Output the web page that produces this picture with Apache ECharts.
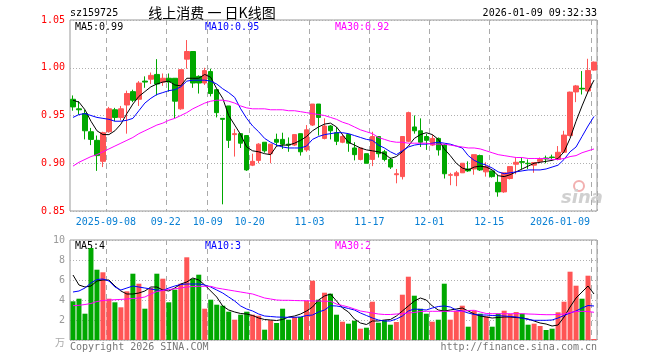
<!DOCTYPE html>
<html><head><meta charset="utf-8">
<script src="https://cdn.jsdelivr.net/npm/echarts@6/dist/echarts.min.js"></script>
<style>html,body{margin:0;padding:0;background:#fff}#c{width:660px;height:360px}</style>
</head><body><div id="c"></div>
<script>
const dates = [
'2025-08-29',
'2025-09-01','2025-09-02','2025-09-03','2025-09-04','2025-09-05','2025-09-08','2025-09-09','2025-09-10','2025-09-11','2025-09-12',
'2025-09-15','2025-09-16','2025-09-17','2025-09-18','2025-09-19','2025-09-22','2025-09-23','2025-09-24','2025-09-25','2025-09-26',
'2025-09-29','2025-09-30',
'2025-10-09','2025-10-10','2025-10-13','2025-10-14','2025-10-15','2025-10-16','2025-10-17','2025-10-20','2025-10-21','2025-10-22',
'2025-10-23','2025-10-24','2025-10-27','2025-10-28','2025-10-29','2025-10-30','2025-10-31',
'2025-11-03','2025-11-04','2025-11-05','2025-11-06','2025-11-07','2025-11-10','2025-11-11','2025-11-12','2025-11-13','2025-11-14',
'2025-11-17','2025-11-18','2025-11-19','2025-11-20','2025-11-21','2025-11-24','2025-11-25','2025-11-26','2025-11-27','2025-11-28',
'2025-12-01','2025-12-02','2025-12-03','2025-12-04','2025-12-05','2025-12-08','2025-12-09','2025-12-10','2025-12-11','2025-12-12',
'2025-12-15','2025-12-16','2025-12-17','2025-12-18','2025-12-19','2025-12-22','2025-12-23','2025-12-24','2025-12-25','2025-12-26',
'2025-12-29','2025-12-30','2025-12-31',
'2026-01-05','2026-01-06','2026-01-07','2026-01-08','2026-01-09'];

const tickDates  = ['2025-09-08','2025-09-22','2025-10-09','2025-10-20','2025-11-03','2025-11-17','2025-12-01','2025-12-15','2026-01-09'];
const tickLabels = ['2025-09-08','09-22','10-09','10-20','11-03','11-17','12-01','12-15','2026-01-09'];
const priceTicks = [0.85, 0.90, 0.95, 1.00, 1.05];
const volTicks = [0, 2, 4, 6, 8, 10];

const opens  = [0.967,0.957,0.952,0.933,0.924,0.902,0.933,0.956,0.948,0.961,0.975,0.967,0.986,0.988,0.993,0.985,0.989,0.989,0.957,1.009,
1.017,0.991,0.984,0.996,0.977,0.947,0.960,0.930,0.931,0.929,0.898,0.903,0.922,0.910,0.925,0.925,0.920,0.919,0.931,0.914,
0.940,0.962,0.926,0.939,0.932,0.922,0.930,0.916,0.904,0.910,0.904,0.928,0.912,0.904,0.888,0.886,0.923,0.938,0.934,0.928,
0.919,0.926,0.919,0.8875,0.887,0.890,0.894,0.894,0.908,0.891,0.892,0.880,0.870,0.884,0.899,0.9017,0.900,0.898,0.902,0.9055,
0.9065,0.904,0.9115,0.929,0.9747,0.9785,0.9757,0.9976];
const closes = [0.959,0.956,0.934,0.925,0.908,0.932,0.957,0.948,0.957,0.973,0.966,0.984,0.985,0.992,0.983,0.989,0.985,0.965,0.998,1.017,
0.984,0.984,0.997,0.973,0.953,0.946,0.924,0.931,0.921,0.893,0.902,0.920,0.913,0.920,0.922,0.920,0.919,0.930,0.912,0.935,
0.962,0.948,0.939,0.934,0.923,0.928,0.921,0.909,0.916,0.900,0.928,0.910,0.904,0.896,0.889,0.928,0.953,0.934,0.922,0.924,
0.926,0.914,0.889,0.888,0.890,0.900,0.892,0.909,0.893,0.8965,0.886,0.870,0.890,0.8965,0.901,0.901,0.8995,0.9007,0.904,0.9045,
0.906,0.9115,0.9295,0.9745,0.981,0.9778,0.9972,1.0059];
const lows   = [0.955,0.951,0.925,0.919,0.892,0.896,0.932,0.944,0.945,0.931,0.964,0.960,0.979,0.983,0.971,0.981,0.975,0.947,0.956,0.999,
0.979,0.973,0.982,0.970,0.948,0.857,0.916,0.907,0.916,0.892,0.897,0.900,0.911,0.900,0.918,0.915,0.912,0.918,0.908,0.912,
0.939,0.929,0.925,0.925,0.919,0.921,0.912,0.903,0.903,0.900,0.897,0.906,0.902,0.894,0.879,0.883,0.922,0.931,0.917,0.914,
0.918,0.908,0.884,0.877,0.876,0.890,0.891,0.888,0.892,0.886,0.885,0.865,0.869,0.883,0.8885,0.894,0.894,0.890,0.900,0.900,
0.904,0.903,0.911,0.928,0.964,0.972,0.9733,0.997];
const highs  = [0.971,0.965,0.956,0.937,0.929,0.933,0.959,0.958,0.960,0.976,0.977,0.986,0.991,0.995,1.009,0.994,0.994,0.989,0.998,1.029,
1.017,0.992,1.000,0.999,0.978,0.947,0.960,0.936,0.931,0.929,0.910,0.921,0.922,0.920,0.931,0.932,0.927,0.930,0.931,0.940,
0.962,0.962,0.947,0.940,0.938,0.931,0.931,0.922,0.916,0.910,0.933,0.928,0.914,0.906,0.894,0.928,0.954,0.950,0.947,0.931,
0.930,0.927,0.920,0.890,0.892,0.900,0.902,0.909,0.909,0.901,0.892,0.888,0.890,0.8965,0.906,0.906,0.904,0.901,0.906,0.908,
0.909,0.918,0.934,0.975,0.982,0.9965,1.0094,1.0065];

const ma5  = [0.966,0.964,0.956,0.944,0.934,0.930,0.930,0.934,0.941,0.952,0.962,0.970,0.975,0.980,0.983,0.985,0.986,0.982,0.981,0.989,
0.989,0.989,0.993,0.990,0.978,0.968,0.950,0.940,0.930,0.917,0.913,0.912,0.910,0.909,0.918,0.919,0.919,0.921,0.924,0.928,
0.934,0.938,0.941,0.942,0.938,0.930,0.922,0.919,0.916,0.914,0.913,0.912,0.910,0.905,0.907,0.912,0.918,0.926,0.930,0.932,
0.930,0.925,0.915,0.908,0.900,0.895,0.893,0.896,0.897,0.896,0.893,0.887,0.886,0.888,0.891,0.894,0.897,0.900,0.901,0.902,
0.903,0.905,0.912,0.926,0.944,0.960,0.975,0.987];
const ma10 = [0.948,0.951,0.952,0.950,0.948,0.947,0.946,0.944,0.944,0.945,0.947,0.955,0.963,0.968,0.972,0.974,0.976,0.977,0.980,0.986,
0.987,0.987,0.987,0.986,0.983,0.978,0.974,0.969,0.957,0.947,0.939,0.933,0.926,0.922,0.919,0.917,0.916,0.916,0.916,0.918,
0.925,0.928,0.930,0.931,0.932,0.932,0.931,0.929,0.927,0.925,0.924,0.919,0.916,0.912,0.909,0.913,0.917,0.919,0.920,0.920,
0.921,0.922,0.921,0.920,0.918,0.916,0.908,0.903,0.900,0.898,0.895,0.891,0.889,0.890,0.891,0.892,0.893,0.893,0.893,0.894,
0.896,0.898,0.904,0.912,0.917,0.928,0.939,0.949];
const ma30 = [0.897,0.901,0.904,0.907,0.909,0.912,0.915,0.918,0.921,0.924,0.927,0.931,0.934,0.937,0.940,0.942,0.945,0.947,0.950,0.953,
0.957,0.960,0.963,0.965,0.966,0.966,0.965,0.963,0.960,0.958,0.957,0.957,0.957,0.956,0.956,0.956,0.955,0.955,0.954,0.953,
0.952,0.951,0.950,0.948,0.946,0.943,0.941,0.938,0.935,0.933,0.931,0.927,0.925,0.923,0.922,0.922,0.921,0.921,0.921,0.921,
0.920,0.920,0.920,0.919,0.918,0.917,0.916,0.916,0.915,0.913,0.911,0.909,0.908,0.907,0.906,0.906,0.905,0.905,0.905,0.905,
0.904,0.904,0.905,0.907,0.908,0.911,0.913,0.915];

const volumes = [3.87,4.13,2.63,9.2,7.03,6.77,4.13,3.77,3.27,4.87,6.63,5.63,3.13,5.2,6.63,6.13,3.77,5.03,5.63,8.27,
6.13,6.53,3.13,4.03,3.53,3.43,2.83,2.03,2.53,2.83,2.53,2.43,1.03,1.97,1.7,3.13,2.03,2.3,2.3,3.93,
5.93,4.03,4.73,4.63,2.53,1.83,1.63,1.93,1.13,1.23,3.83,1.73,1.97,1.53,1.8,4.53,6.33,4.43,3.13,2.63,
1.83,2.03,5.63,2.03,2.93,3.43,1.33,2.93,2.63,2.37,1.33,2.63,2.93,2.6,2.8,2.63,1.53,1.63,1.4,1.0,
1.13,2.77,3.83,6.83,5.43,4.13,6.43,0.1];
const vma5  = [6.5,5.5,5.3,5.4,5.9,6.0,6.0,5.4,4.9,4.6,4.6,4.7,4.9,5.3,5.3,5.0,4.9,5.2,5.6,5.8,
6.2,6.0,5.5,4.9,4.3,3.4,3.0,2.8,2.65,2.6,2.45,2.2,2.05,2.0,1.95,2.05,2.3,2.4,2.6,2.9,
3.3,4.0,4.4,4.6,3.9,3.2,2.8,2.1,1.7,1.55,1.9,1.9,2.0,2.05,2.4,2.9,3.4,3.9,4.2,4.0,
3.4,3.0,2.9,3.0,3.1,3.2,2.9,2.6,2.4,2.3,2.2,2.25,2.3,2.3,2.25,2.2,2.1,1.9,1.7,1.6,
1.4,1.5,2.3,3.3,4.2,4.8,5.4,4.6];
const vma10 = [4.8,4.9,5.2,5.7,6.05,6.1,5.9,5.3,5.0,5.2,5.4,5.3,5.2,5.1,5.0,4.95,5.2,5.4,5.55,5.6,
5.6,5.6,5.5,5.3,5.0,4.7,4.3,3.9,3.4,3.1,2.9,2.6,2.4,2.35,2.3,2.28,2.27,2.27,2.3,2.45,
2.5,2.8,3.0,3.43,3.4,3.3,3.15,3.0,2.7,2.45,2.2,2.0,1.9,1.9,2.1,2.4,2.9,3.1,3.05,3.0,
3.2,3.35,3.4,3.3,3.0,2.9,2.7,2.55,2.5,2.5,2.45,2.43,2.4,2.35,2.3,2.2,2.05,1.97,1.97,1.97,
2.0,2.2,2.45,2.7,2.9,3.2,3.45,3.4];
const vma30 = [3.43,3.47,3.55,3.65,3.85,3.95,4.0,4.03,4.06,4.1,4.15,4.2,4.3,4.6,4.85,4.95,5.05,5.12,5.2,5.3,
5.35,5.37,5.37,5.37,5.2,5.1,5.0,4.9,4.8,4.7,4.6,4.4,4.2,4.1,4.0,3.97,3.97,3.95,3.93,3.93,
3.9,3.9,3.88,3.87,3.6,3.45,3.3,3.1,2.9,2.8,2.7,2.6,2.55,2.55,2.6,2.63,2.7,2.75,2.85,2.87,
2.87,2.87,2.87,2.87,2.87,2.87,2.95,2.97,2.8,2.65,2.63,2.63,2.63,2.63,2.63,2.63,2.6,2.58,2.55,2.53,
2.53,2.55,2.6,2.75,2.85,2.87,2.85,2.77];

const UP = '#ff5555', DOWN = '#00a800';
const MONO = '"DejaVu Sans Mono", "Liberation Mono", monospace';

const kData = opens.map((o, i) => [o, closes[i], lows[i], highs[i]]);
const volData = volumes.map((v, i) => ({ value: v, itemStyle: { color: closes[i] >= opens[i] ? UP : DOWN } }));
const isTick = (idx, val) => tickDates.indexOf(val) >= 0;

const chart = echarts.init(document.getElementById('c'), null, { renderer: 'canvas' });
const splitV = { show: true, interval: isTick, lineStyle: { color: '#aaaaaa', type: [5, 4], width: 1 } };
const splitH = { show: true, lineStyle: { color: '#b0b0b0', type: [1, 2], width: 1 } };

chart.setOption({
  animation: false,
  backgroundColor: '#ffffff',
  grid: [
    { left: 70, top: 20, width: 527, height: 191, show: true, borderColor: '#999999', borderWidth: 1, backgroundColor: 'transparent' },
    { left: 70, top: 240, width: 527, height: 100, show: true, borderColor: '#999999', borderWidth: 1, backgroundColor: 'transparent' }
  ],
  xAxis: [
    { type: 'category', gridIndex: 0, data: dates, boundaryGap: true,
      axisLine: { show: false }, axisTick: { show: false }, splitLine: splitV,
      axisLabel: { show: true, interval: isTick, margin: 6, color: '#0a80d4', fontFamily: MONO, fontSize: 10,
        formatter: (val) => {
          const k = tickDates.indexOf(val);
          if (k < 0) return '';
          return (k === tickDates.length - 1 ? '{b|' : '{a|') + tickLabels[k] + '}';
        },
        rich: {
          a: { padding: [0, 6, 0, 0], color: '#0a80d4', fontFamily: MONO, fontSize: 10 },
          b: { padding: [0, 68, 0, 0], color: '#0a80d4', fontFamily: MONO, fontSize: 10 }
        } } },
    { type: 'category', gridIndex: 1, data: dates, boundaryGap: true,
      axisLine: { show: false }, axisTick: { show: false }, axisLabel: { show: false }, splitLine: splitV }
  ],
  yAxis: [
    { type: 'value', gridIndex: 0, min: priceTicks[0], max: priceTicks[priceTicks.length - 1], interval: 0.05, scale: false,
      axisLine: { show: false }, axisTick: { show: false }, splitLine: splitH,
      axisLabel: { color: '#ff0000', fontFamily: MONO, fontSize: 10, margin: 5, formatter: v => v.toFixed(2) } },
    { type: 'value', gridIndex: 1, min: volTicks[0], max: volTicks[volTicks.length - 1], interval: 2,
      axisLine: { show: false }, axisTick: { show: false }, splitLine: splitH,
      axisLabel: { color: '#999999', fontFamily: MONO, fontSize: 10, margin: 5,
        formatter: v => v === 0 ? '{u|万}' : String(v),
        rich: { u: { color: '#aaaaaa', fontFamily: '"Noto Sans CJK SC", sans-serif', fontSize: 10, padding: [4, 0, 0, 0] } } } }
  ],
  series: [
    { type: 'candlestick', xAxisIndex: 0, yAxisIndex: 0, data: kData, barWidth: 5,
      itemStyle: { color: UP, color0: DOWN, borderColor: UP, borderColor0: DOWN, borderWidth: 1 } },
    { type: 'line', xAxisIndex: 0, yAxisIndex: 0, data: ma5, symbol: 'none', smooth: false, lineStyle: { color: '#000000', width: 1 } },
    { type: 'line', xAxisIndex: 0, yAxisIndex: 0, data: ma10, symbol: 'none', smooth: false, lineStyle: { color: '#0000ff', width: 1 } },
    { type: 'line', xAxisIndex: 0, yAxisIndex: 0, data: ma30, symbol: 'none', smooth: false, lineStyle: { color: '#ff00ff', width: 1 } },
    { type: 'bar', xAxisIndex: 1, yAxisIndex: 1, data: volData, barWidth: 5 },
    { type: 'line', xAxisIndex: 1, yAxisIndex: 1, data: vma5, symbol: 'none', lineStyle: { color: '#000000', width: 1 } },
    { type: 'line', xAxisIndex: 1, yAxisIndex: 1, data: vma10, symbol: 'none', lineStyle: { color: '#0000ff', width: 1 } },
    { type: 'line', xAxisIndex: 1, yAxisIndex: 1, data: vma30, symbol: 'none', lineStyle: { color: '#ff00ff', width: 1 } }
  ],
  graphic: [
    { type: 'text', x: 70, y: 13, style: { text: 'sz159725', fill: '#000', font: '10px ' + MONO, verticalAlign: 'middle' } },
    { type: 'text', x: 212, y: 13, style: { text: '线上消费 一 日K线图', fill: '#000', font: '14px "Noto Sans CJK SC", sans-serif', align: 'center', verticalAlign: 'middle' } },
    { type: 'text', x: 597, y: 13, style: { text: '2026-01-09 09:32:33', fill: '#000', font: '10px ' + MONO, align: 'right', verticalAlign: 'middle' } },
    { type: 'text', x: 75, y: 27, style: { text: 'MA5:0.99', fill: '#000000', font: '10px ' + MONO, verticalAlign: 'middle' } },
    { type: 'text', x: 205, y: 27, style: { text: 'MA10:0.95', fill: '#0000ff', font: '10px ' + MONO, verticalAlign: 'middle' } },
    { type: 'text', x: 335, y: 27, style: { text: 'MA30:0.92', fill: '#ff00ff', font: '10px ' + MONO, verticalAlign: 'middle' } },
    { type: 'text', x: 75, y: 246, style: { text: 'MA5:4', fill: '#000000', font: '10px ' + MONO, verticalAlign: 'middle' } },
    { type: 'text', x: 205, y: 246, style: { text: 'MA10:3', fill: '#0000ff', font: '10px ' + MONO, verticalAlign: 'middle' } },
    { type: 'text', x: 335, y: 246, style: { text: 'MA30:2', fill: '#ff00ff', font: '10px ' + MONO, verticalAlign: 'middle' } },
    { type: 'text', x: 70, y: 347, style: { text: 'Copyright 2026 SINA.COM', fill: '#777777', font: '10px ' + MONO, verticalAlign: 'middle' } },
    { type: 'text', x: 597, y: 347, style: { text: 'http://finance.sina.com.cn', fill: '#777777', font: '10px ' + MONO, align: 'right', verticalAlign: 'middle' } },
    { type: 'circle', shape: { cx: 579, cy: 186, r: 5 }, style: { fill: 'none', stroke: '#f2b0b0', lineWidth: 2 }, z: 0 },
    { type: 'text', x: 582, y: 198, style: { text: 'sina', fill: '#d0d0d0', font: 'italic bold 18px "DejaVu Sans", sans-serif', align: 'center', verticalAlign: 'middle' }, z: 0 }
  ]
});
</script>
</body></html>
